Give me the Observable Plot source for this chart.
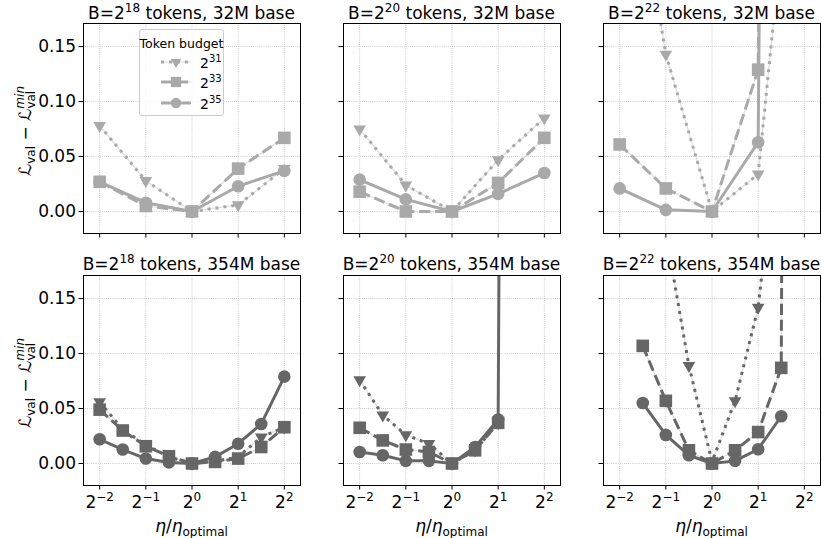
<!DOCTYPE html>
<html>
<head>
<meta charset="utf-8">
<script src="https://cdn.jsdelivr.net/npm/d3@7"></script>
<script src="https://cdn.jsdelivr.net/npm/@observablehq/plot@0.6"></script>
<style>
  html, body { margin: 0; padding: 0; background: #fff; }
  #fig { position: relative; width: 822px; height: 538px; overflow: hidden;
         font-family: "DejaVu Sans", sans-serif; color: #000; }
  #fig svg.panel { position: absolute; }
  #fig svg.ylabels { position: absolute; left: 0; top: 0; }
  .title { position: absolute; font-size: 17px; line-height: 17px; white-space: nowrap;
           transform: translateX(-50%); }
  .sup { position: relative; font-size: 12px; top: -7px; }
  .xlabel { position: absolute; font-size: 17px; line-height: 17px; white-space: nowrap;
            transform: translateX(-50%); }
  .xlabel i { font-style: italic; }
  .xlabel .sub { position: relative; font-size: 12px; top: 4px; }
  .legend { position: absolute; border: 1px solid #cccccc; border-radius: 3px;
            background: rgba(255,255,255,0.8); box-sizing: border-box; }
  .legend .ltitle { position: absolute; font-size: 12.5px; line-height: 13px; white-space: nowrap;
                    left: 50%; transform: translateX(-50%); }
  .legend .lab { position: absolute; font-size: 14px; line-height: 14px; white-space: nowrap; }
  .legend .lab .lsup { position: relative; font-size: 10px; top: -6px; }
  .legend svg { position: absolute; }
</style>
</head>
<body>
<div id="fig"></div>
<script>
// ---- data: gap to the best validation loss, per learning-rate multiplier ----
const batchExps = [18, 20, 22];
const baseModels = ["32M", "354M"];
const budgetExps = [31, 33, 35];
const xTickExps = [-2, -1, 0, 1, 2];
const yTicks = [0, 0.05, 0.10, 0.15];

// learning-rate multipliers (log2 of eta / eta_optimal)
const lrOctaves = [-2, -1, 0, 1, 2];
const lrHalf = [-2, -1.5, -1, -0.5, 0, 0.5, 1, 1.5, 2];
const lrHalfB20 = [-2, -1.5, -1, -0.5, 0, 0.5, 1];
const lrHalfB20Div = [-2, -1.5, -1, -0.5, 0, 0.5, 1, 2];
const lrB22t31 = [-1, -0.5, 0, 0.5, 1, 1.5];
const lrB22t33 = [-1.5, -1, -0.5, 0, 0.5, 1, 1.5, 2];
const lrB22t35 = [-1.5, -1, -0.5, 0, 0.5, 1, 1.5];

// 32M base model
const m32_b18_t31 = [0.078, 0.028, 0.000, 0.006, 0.039];
const m32_b18_t33 = [0.027, 0.005, 0.000, 0.039, 0.067];
const m32_b18_t35 = [0.027, 0.008, 0.000, 0.023, 0.037];
const m32_b20_t31 = [0.075, 0.024, 0.000, 0.047, 0.085];
const m32_b20_t33 = [0.018, 0.000, 0.000, 0.026, 0.067];
const m32_b20_t35 = [0.029, 0.011, 0.000, 0.016, 0.035];
const m32_b22_t31 = [0.40, 0.143, 0.000, 0.034, 0.45];
const m32_b22_t33 = [0.061, 0.021, 0.000, 0.129, 5.0];
const m32_b22_t35 = [0.021, 0.0015, 0.000, 0.063, 5.0];

// 354M base model
const m354_b18_t31 = [0.056, 0.031, 0.017, 0.006, 0.000, 0.002, 0.006, 0.024, 0.033];
const m354_b18_t33 = [0.049, 0.030, 0.0157, 0.0066, 0.000, 0.0015, 0.0045, 0.015, 0.033];
const m354_b18_t35 = [0.022, 0.0127, 0.0045, 0.001, 0.000, 0.006, 0.018, 0.036, 0.079];
const m354_b20_t31 = [0.076, 0.044, 0.026, 0.018, 0.000, 0.012, 0.037];
const m354_b20_t33 = [0.0325, 0.021, 0.0127, 0.0105, 0.000, 0.012, 0.037];
const m354_b20_t35 = [0.0105, 0.0075, 0.0024, 0.0024, 0.000, 0.015, 0.040, 8.0];
const m354_b22_t31 = [0.21, 0.089, 0.0015, 0.057, 0.142, 0.33];
const m354_b22_t33 = [0.107, 0.057, 0.012, 0.000, 0.012, 0.0286, 0.087, 5.0];
const m354_b22_t35 = [0.055, 0.026, 0.0075, 0.000, 0.0024, 0.013, 0.043];

const rowColors = ["#a9a9a9", "#666666"];

// ---- marker symbols (size = pi * r^2, as Plot passes it) ----
const triDown = { draw(ctx, size) { const r = Math.sqrt(size / Math.PI);
  ctx.moveTo(0, r); ctx.lineTo(-0.866 * r, -0.5 * r); ctx.lineTo(0.866 * r, -0.5 * r); ctx.closePath(); } };
const squareSym = { draw(ctx, size) { const r = Math.sqrt(size / Math.PI);
  ctx.moveTo(-r, -r); ctx.lineTo(r, -r); ctx.lineTo(r, r); ctx.lineTo(-r, r); ctx.closePath(); } };
const circleSym = { draw(ctx, size) { const r = Math.sqrt(size / Math.PI);
  ctx.moveTo(r, 0); ctx.arc(0, 0, r, 0, 2 * Math.PI); } };

const seriesStyle = {
  31: { dash: "3,4.95", symbol: triDown, r: 7.3 },
  33: { dash: "11.1,4.8", symbol: squareSym, r: 6.3 },
  35: { dash: null, symbol: circleSym, r: 6.3 }
};

const panels = [
  { row: 0, col: 0, series: [[lrOctaves, m32_b18_t31], [lrOctaves, m32_b18_t33], [lrOctaves, m32_b18_t35]] },
  { row: 0, col: 1, series: [[lrOctaves, m32_b20_t31], [lrOctaves, m32_b20_t33], [lrOctaves, m32_b20_t35]] },
  { row: 0, col: 2, series: [[lrOctaves, m32_b22_t31], [lrOctaves, m32_b22_t33], [lrOctaves, m32_b22_t35]] },
  { row: 1, col: 0, series: [[lrHalf, m354_b18_t31], [lrHalf, m354_b18_t33], [lrHalf, m354_b18_t35]] },
  { row: 1, col: 1, series: [[lrHalfB20, m354_b20_t31], [lrHalfB20, m354_b20_t33], [lrHalfB20Div, m354_b20_t35]] },
  { row: 1, col: 2, series: [[lrB22t31, m354_b22_t31], [lrB22t33, m354_b22_t33], [lrB22t35, m354_b22_t35]] }
];

// ---- layout ----
const fig = document.getElementById("fig");
const FW = 217, FH = 210;
const colLeft = [83, 343, 603];
const rowTop = [23, 275];
const mL = 60, mR = 2, mT = 2, mB = 44;
const xTicks = xTickExps.map(e => 2 ** e);
const minus = e => (e < 0 ? "\u2212" : "") + Math.abs(e);
const svgNS = "http://www.w3.org/2000/svg";

for (const p of panels) {
  const color = rowColors[p.row];
  const rows = [];
  p.series.forEach(([xs, ys], i) => {
    xs.forEach((e, j) => rows.push({ x: 2 ** e, y: ys[j], budget: budgetExps[i] }));
  });
  const lineMarks = [];
  const thinMarks = [];
  for (const b of budgetExps) {
    const st = seriesStyle[b];
    const data = rows.filter(d => d.budget === b);
    thinMarks.push(Plot.line(data, { x: "x", y: "y", stroke: "#dedede", strokeWidth: 1.2, clip: true }));
    lineMarks.push(Plot.line(data, {
      x: "x", y: "y", stroke: color, strokeWidth: 3,
      strokeDasharray: st.dash, strokeLinecap: st.dash ? "butt" : "square", strokeLinejoin: "round", clip: true
    }));
    lineMarks.push(Plot.dot(data, { x: "x", y: "y", symbol: st.symbol, r: st.r, fill: color, stroke: "none", clip: true }));
  }
  const showY = p.col === 0;
  const showX = p.row === 1;
  const svg = Plot.plot({
    width: mL + FW + mR, height: mT + FH + mB,
    marginLeft: mL, marginRight: mR, marginTop: mT, marginBottom: mB,
    style: { background: "transparent", overflow: "visible", fontFamily: "DejaVu Sans", fontSize: "17px", color: "#000" },
    x: { type: "log", base: 2, domain: [2 ** -2.35, 2 ** 2.35] },
    y: { domain: [-0.02, 0.171] },
    marks: [
      Plot.gridX(xTicks, { stroke: "#b0b0b0", strokeOpacity: 1, strokeWidth: 0.8, strokeDasharray: "0.8,1.3" }),
      Plot.gridY(yTicks, { stroke: "#b0b0b0", strokeOpacity: 1, strokeWidth: 0.8, strokeDasharray: "0.8,1.3" }),
      Plot.axisX(xTicks, { tickSize: 4.5, tickPadding: 6, label: null,
        tickFormat: showX ? (d => minus(Math.round(Math.log2(d)))) : (() => "") }),
      Plot.axisY(yTicks, { tickSize: 4.5, tickPadding: 3, label: null,
        tickFormat: showY ? d3.format(".2f") : (() => "") }),
      ...thinMarks,
      ...lineMarks,
      Plot.frame({ stroke: "#000", strokeWidth: 1 })
    ]
  });
  svg.classList.add("panel");
  svg.style.left = (colLeft[p.col] - mL) + "px";
  svg.style.top = (rowTop[p.row] - mT) + "px";
  svg.style.maxWidth = "none";
  // x tick labels as 2 with a raised exponent
  if (showX) {
    svg.querySelectorAll('g[aria-label="x-axis tick label"] text').forEach(t => {
      const e = t.textContent;
      t.textContent = "";
      const base = document.createElementNS(svgNS, "tspan");
      base.textContent = "2";
      const sup = document.createElementNS(svgNS, "tspan");
      sup.textContent = e;
      sup.setAttribute("font-size", "12");
      sup.setAttribute("dy", "-7");
      t.append(base, sup);
    });
  }
  fig.appendChild(svg);

  // panel title
  const cx = colLeft[p.col] + FW / 2;
  const title = document.createElement("div");
  title.className = "title";
  title.style.left = cx + "px";
  title.style.top = (p.row === 0 ? 5 : 256) + "px";
  title.innerHTML = `B=2<span class="sup">${batchExps[p.col]}</span> tokens, ${baseModels[p.row]} base`;
  fig.appendChild(title);

  if (showX) {
    const xl = document.createElement("div");
    xl.className = "xlabel";
    xl.style.left = cx + "px";
    xl.style.top = "518px";
    xl.innerHTML = `<i>η</i>/<i>η</i><span class="sub">optimal</span>`;
    fig.appendChild(xl);
  }
}

// ---- y-axis labels, rotated, one per row ----
const ySvg = d3.create("svg").attr("class", "ylabels").attr("width", 60).attr("height", 538)
  .style("font-family", "DejaVu Sans");
for (const r of [0, 1]) {
  const cy = rowTop[r] + FH / 2 + 3;
  const t = ySvg.append("text")
    .attr("transform", `translate(31,${cy}) rotate(-90)`)
    .attr("text-anchor", "middle").attr("font-size", 17).attr("fill", "#000");
  t.append("tspan").attr("font-style", "italic").text("ℒ");
  t.append("tspan").attr("font-size", 12).attr("dy", 4).text("val");
  t.append("tspan").attr("dy", -4).text(" − ");
  t.append("tspan").attr("font-style", "italic").text("ℒ");
  t.append("tspan").attr("font-size", 12).attr("font-style", "italic").attr("dy", -7).text("min");
  t.append("tspan").attr("font-size", 12).attr("dx", -22.6).attr("dy", 11).text("val");
}
fig.appendChild(ySvg.node());

// ---- legend: token budget ----
const legend = document.createElement("div");
legend.className = "legend";
Object.assign(legend.style, { left: "139px", top: "29px", width: "85px", height: "87px" });
const lt = document.createElement("div");
lt.className = "ltitle";
lt.style.top = "7px";
lt.textContent = "Token budget";
legend.appendChild(lt);
const legendRowY = [32, 52, 73];
budgetExps.forEach((b, i) => {
  const st = seriesStyle[b];
  const s = d3.create("svg").attr("width", 34).attr("height", 18)
    .style("left", "19px").style("top", (legendRowY[i] - 9) + "px");
  s.append("line").attr("x1", 2).attr("x2", 32).attr("y1", 9).attr("y2", 9)
    .attr("stroke", "#dedede").attr("stroke-width", 1.2);
  s.append("line").attr("x1", 2).attr("x2", 32).attr("y1", 9).attr("y2", 9)
    .attr("stroke", rowColors[0]).attr("stroke-width", 3)
    .attr("stroke-dasharray", st.dash).attr("stroke-linecap", "butt");
  s.append("path").attr("transform", "translate(17,9)")
    .attr("d", d3.symbol(st.symbol, Math.PI * (st.r * 0.82) ** 2)())
    .attr("fill", rowColors[0]);
  legend.appendChild(s.node());
  const lab = document.createElement("div");
  lab.className = "lab";
  lab.style.left = "60px";
  lab.style.top = (legendRowY[i] - 6) + "px";
  lab.innerHTML = `2<span class="lsup">${b}</span>`;
  legend.appendChild(lab);
});
fig.appendChild(legend);
</script>
</body>
</html>
